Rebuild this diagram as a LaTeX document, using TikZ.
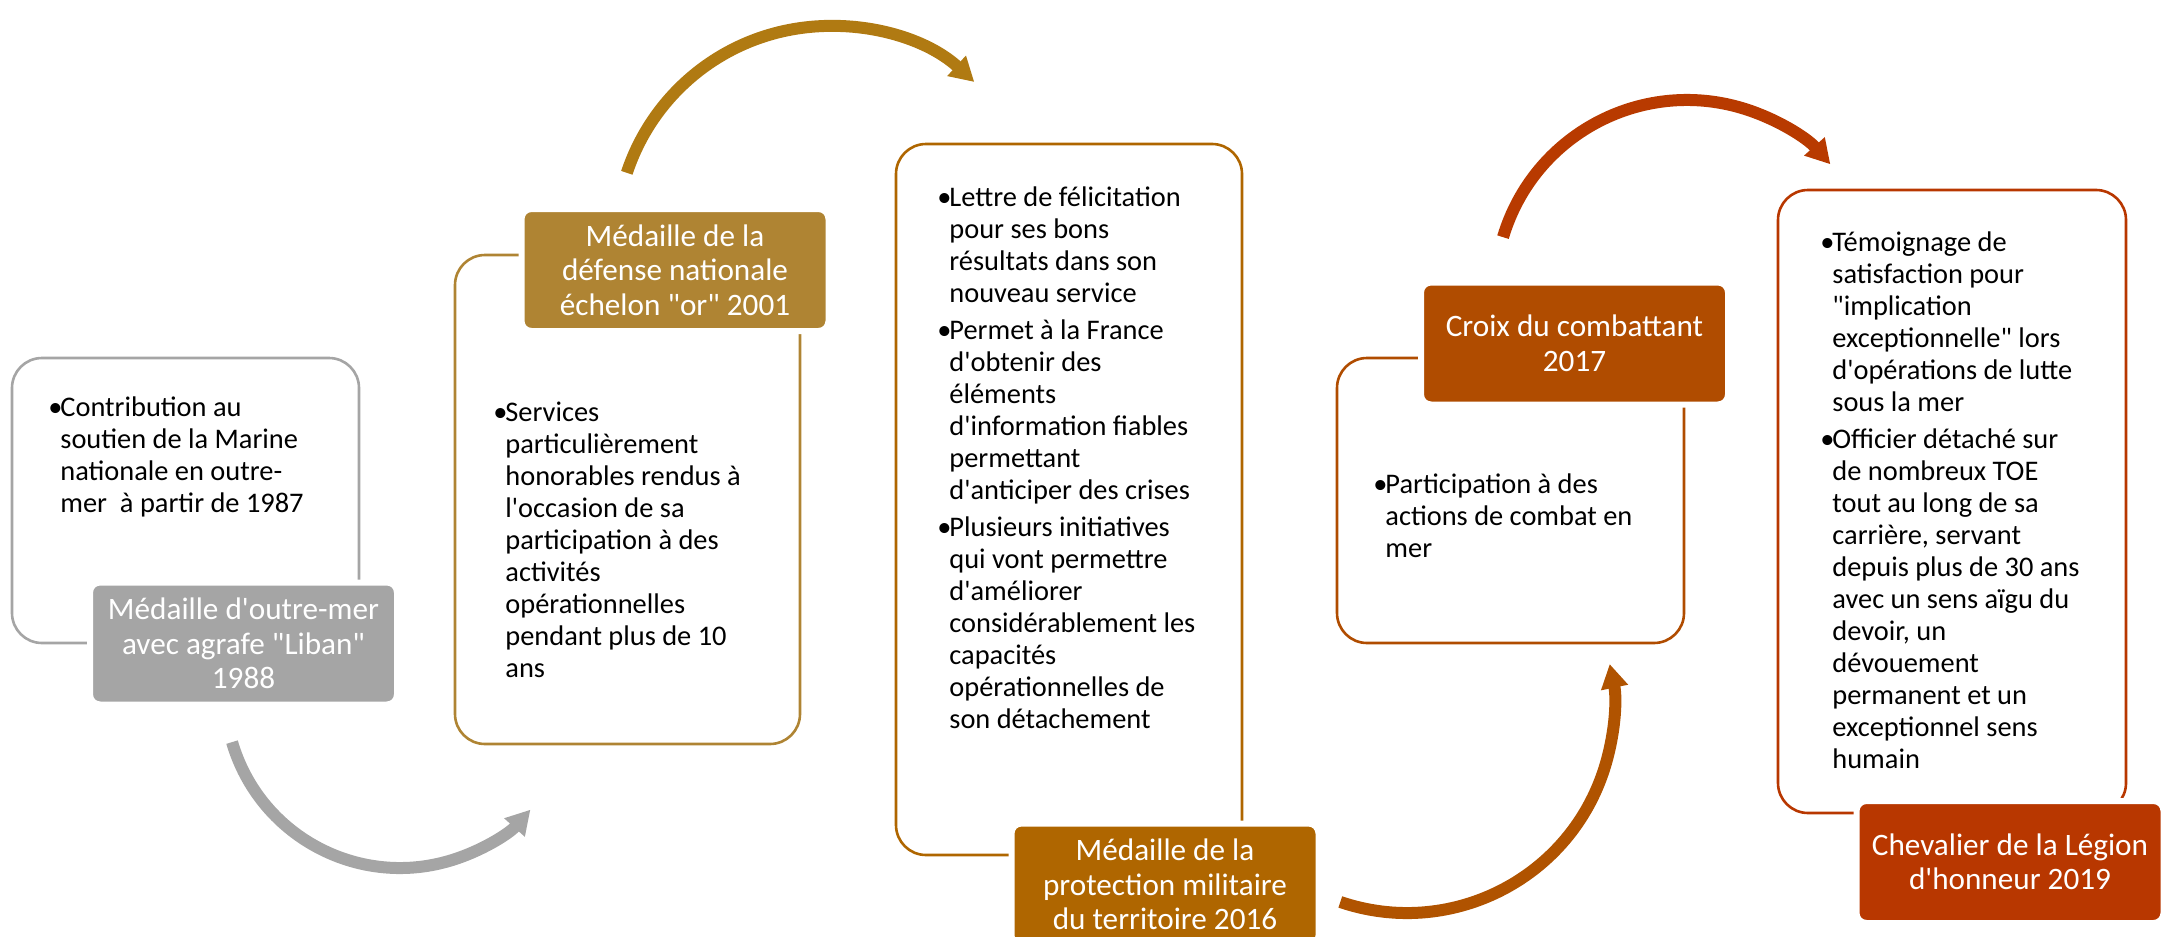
\documentclass[tikz,border=0pt]{standalone}
\usepackage{fontspec}
\setmainfont{Carlito}
\usepackage{array}
\usetikzlibrary{arrows.meta}

\definecolor{grisA}{HTML}{A5A5A5}
\definecolor{orA}{HTML}{AF8433}
\definecolor{orB}{HTML}{B07A12}
\definecolor{ocreA}{HTML}{AF6600}
\definecolor{brunA}{HTML}{B05300}
\definecolor{rouxA}{HTML}{B04C00}
\definecolor{rouxB}{HTML}{B83A00}
\definecolor{rougeA}{HTML}{B83700}

\newcommand{\puce}{\textbullet}
\newcommand{\ap}{\textquotesingle}
\newcommand{\gui}{\textquotedbl}
\newcolumntype{B}{@{}p{6pt}@{}l@{}}

\tikzset{
  cadre/.style={draw=#1, line width=1.3pt, rounded corners=15pt, inner sep=0pt},
  titre/.style={fill=#1, draw=white, line width=3pt, rounded corners=5pt,
    text=white, align=center, inner sep=0pt,
    minimum width=153.5pt, minimum height=61pt,
    font=\fontsize{15.6}{17.25}\selectfont},
  corps/.style={anchor=base west, inner sep=0pt, font=\fontsize{14.2}{16}\selectfont},
  fleche/.style={draw=#1, line width=6pt, -{Triangle[width=13pt,length=12pt]}},
}

\begin{document}
\begin{tikzpicture}[x=0.5pt,y=-0.5pt]
                \useasboundingbox (0,0) rectangle (2169,937);
                %frames
                \node[cadre=grisA, minimum width=173.5pt, minimum height=142.5pt] (cadre1) at (185.5,500.5) {};
                \node[cadre=orA, minimum width=172.5pt, minimum height=244.5pt] (cadre2) at (627.5,499.5) {};
                \node[cadre=ocreA, minimum width=173pt, minimum height=355.5pt] (cadre3) at (1069,499.5) {};
                \node[cadre=rouxA, minimum width=173.5pt, minimum height=142.5pt] (cadre4) at (1510.5,500.5) {};
                \node[cadre=rougeA, minimum width=174pt, minimum height=311.5pt] (cadre5) at (1952,501.5) {};
                %titles
                \node[titre=grisA] (titre1) at (243.5,643.5) {M\'edaille d\ap outre-mer\\avec agrafe \gui Liban\gui\\1988};
                \node[titre=orA] (titre2) at (675,270) {M\'edaille de la\\d\'efense nationale\\\'echelon \gui or\gui{} 2001};
                \node[titre=ocreA] (titre3) at (1165,884.5) {M\'edaille de la\\protection militaire\\du territoire 2016};
                \node[titre=rouxA] (titre4) at (1574.5,343.5) {Croix du combattant\\2017};
                \node[titre=rougeA] (titre5) at (2010,862) {Chevalier de la L\'egion\\d\ap honneur 2019};
                %texts
                \node[corps] (texte1) at (48,416) {\begin{tabular}[t]{B}
                    \puce & Contribution au\\
                          & soutien de la Marine\\
                          & nationale en outre-\\
                          & mer\ \ \`a partir de 1987
                    \end{tabular}};
                \node[corps] (texte2) at (493,421) {\begin{tabular}[t]{B}
                    \puce & Services\\
                          & particuli\`erement\\
                          & honorables rendus \`a\\
                          & l\ap occasion de sa\\
                          & participation \`a des\\
                          & activit\'es\\
                          & op\'erationnelles\\
                          & pendant plus de 10\\
                          & ans
                    \end{tabular}};
                \node[corps] (texte3) at (937,206) {\begin{tabular}[t]{B}
                    \puce & Lettre de f\'elicitation\\
                          & pour ses bons\\
                          & r\'esultats dans son\\
                          & nouveau service\\[2.5pt]
                    \puce & Permet \`a la France\\
                          & d\ap obtenir des\\
                          & \'el\'ements\\
                          & d\ap information fiables\\
                          & permettant\\
                          & d\ap anticiper des crises\\[2.5pt]
                    \puce & Plusieurs initiatives\\
                          & qui vont permettre\\
                          & d\ap am\'eliorer\\
                          & consid\'erablement les\\
                          & capacit\'es\\
                          & op\'erationnelles de\\
                          & son d\'etachement
                    \end{tabular}};
                \node[corps] (texte4) at (1373,493) {\begin{tabular}[t]{B}
                    \puce & Participation \`a des\\
                          & actions de combat en\\
                          & mer
                    \end{tabular}};
                \node[corps] (texte5) at (1820,251) {\begin{tabular}[t]{B}
                    \puce & T\'emoignage de\\
                          & satisfaction pour\\
                          & \gui implication\\
                          & exceptionnelle\gui{} lors\\
                          & d\ap op\'erations de lutte\\
                          & sous la mer\\[2.5pt]
                    \puce & Officier d\'etach\'e sur\\
                          & de nombreux TOE\\
                          & tout au long de sa\\
                          & carri\`ere, servant\\
                          & depuis plus de 30 ans\\
                          & avec un sens a\"igu du\\
                          & devoir, un\\
                          & d\'evouement\\
                          & permanent et un\\
                          & exceptionnel sens\\
                          & humain
                    \end{tabular}};
                %arrows
                \coordinate (centre1) at (400,693);
                \coordinate (centre2) at (830,240);
                \coordinate (centre3) at (1407,706);
                \coordinate (centre4) at (1687,292);
                \draw[fleche=grisA] (centre1) ++(-196.3:175) arc[start angle=-196.3, end angle=-318.2, radius=175];
                \draw[fleche=orB] (centre2) ++(-161.7:214) arc[start angle=-161.7, end angle=-47.6, radius=214];
                \draw[fleche=brunA] (centre3) ++(-251.2:207) arc[start angle=-251.2, end angle=-371.7, radius=207];
                \draw[fleche=rouxB] (centre4) ++(-163.4:192) arc[start angle=-163.4, end angle=-41.7, radius=192];
\end{tikzpicture}
\end{document}
